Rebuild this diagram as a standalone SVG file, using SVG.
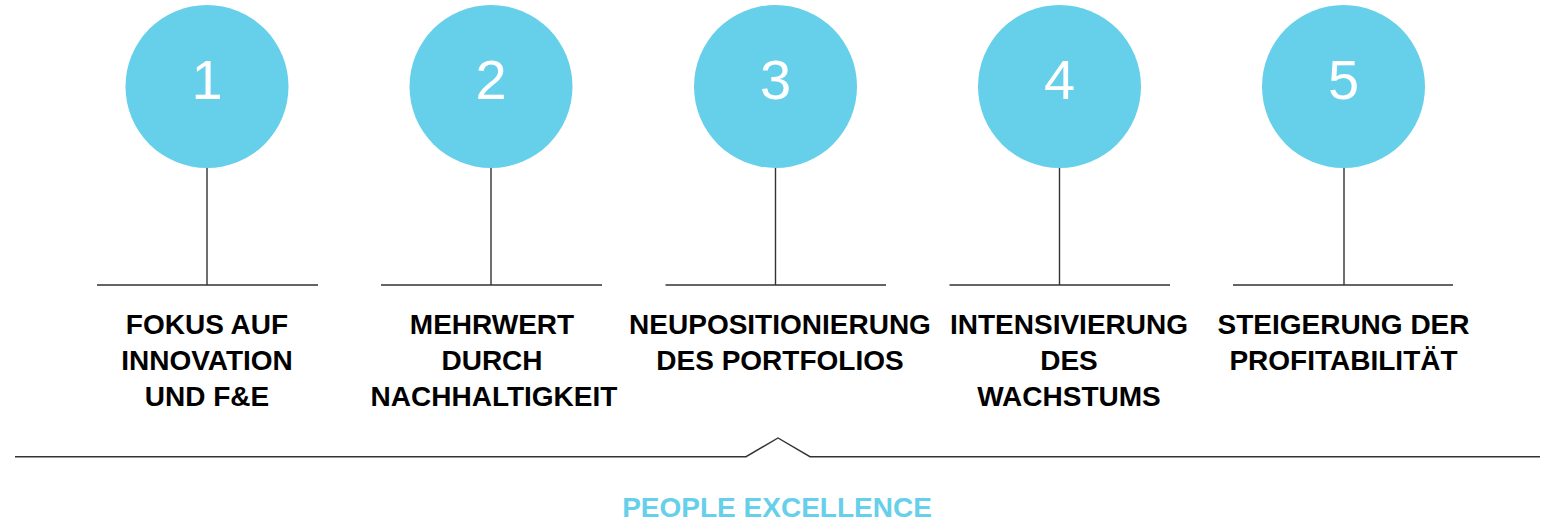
<svg xmlns="http://www.w3.org/2000/svg" width="1552" height="521" viewBox="0 0 1552 521">
<style>
.c{fill:#66CFE9}
.n{font-family:"Liberation Sans",Arial,sans-serif;font-size:56px;fill:#fff;text-anchor:middle}
.t{font-family:"Liberation Sans",Arial,sans-serif;font-size:28px;font-weight:bold;fill:#000;text-anchor:middle}
.l{stroke:#333;stroke-width:1.4;fill:none}
.pe{font-family:"Liberation Sans",Arial,sans-serif;font-size:28px;font-weight:bold;fill:#66CFE9;text-anchor:middle}
</style>
<rect width="1552" height="521" fill="#fff"/>
<g id="connectors">
<path class="l" d="M207 168V285M97 285H318"/>
<path class="l" d="M491 168V285M381 285H602"/>
<path class="l" d="M775.5 168V285M665.5 285H886"/>
<path class="l" d="M1059.5 168V285M949.5 285H1170"/>
<path class="l" d="M1344 168V285M1233 285H1453"/>
<path class="l" d="M15 456.7H746L778 438L810 456.7H1540" stroke="#444"/>
</g>
<g id="node1">
<circle class="c" cx="207" cy="86.5" r="81.5"/>
<text class="n" x="207" y="99">1</text>
<text class="t" x="207"><tspan x="207" y="334">FOKUS AUF</tspan><tspan x="207" y="370">INNOVATION</tspan><tspan x="207" y="406">UND F&amp;E</tspan></text>
</g>
<g id="node2">
<circle class="c" cx="491" cy="86.5" r="81.5"/>
<text class="n" x="491" y="99">2</text>
<text class="t"><tspan x="492" y="334">MEHRWERT</tspan><tspan x="492" y="370">DURCH</tspan><tspan x="494" y="406">NACHHALTIGKEIT</tspan></text>
</g>
<g id="node3">
<circle class="c" cx="775.5" cy="86.5" r="81.5"/>
<text class="n" x="775.5" y="99">3</text>
<text class="t"><tspan x="780" y="334">NEUPOSITIONIERUNG</tspan><tspan x="780" y="370">DES PORTFOLIOS</tspan></text>
</g>
<g id="node4">
<circle class="c" cx="1059.5" cy="86.5" r="81.5"/>
<text class="n" x="1059.5" y="99">4</text>
<text class="t"><tspan x="1069" y="334">INTENSIVIERUNG</tspan><tspan x="1069" y="370">DES</tspan><tspan x="1069" y="406">WACHSTUMS</tspan></text>
</g>
<g id="node5">
<circle class="c" cx="1343.5" cy="86.5" r="81.5"/>
<text class="n" x="1343.5" y="99">5</text>
<text class="t"><tspan x="1343.5" y="334">STEIGERUNG DER</tspan><tspan x="1343.5" y="370">PROFITABILITÄT</tspan></text>
</g>
<g id="people">
<text class="pe" x="777" y="517">PEOPLE EXCELLENCE</text>
</g>
</svg>
